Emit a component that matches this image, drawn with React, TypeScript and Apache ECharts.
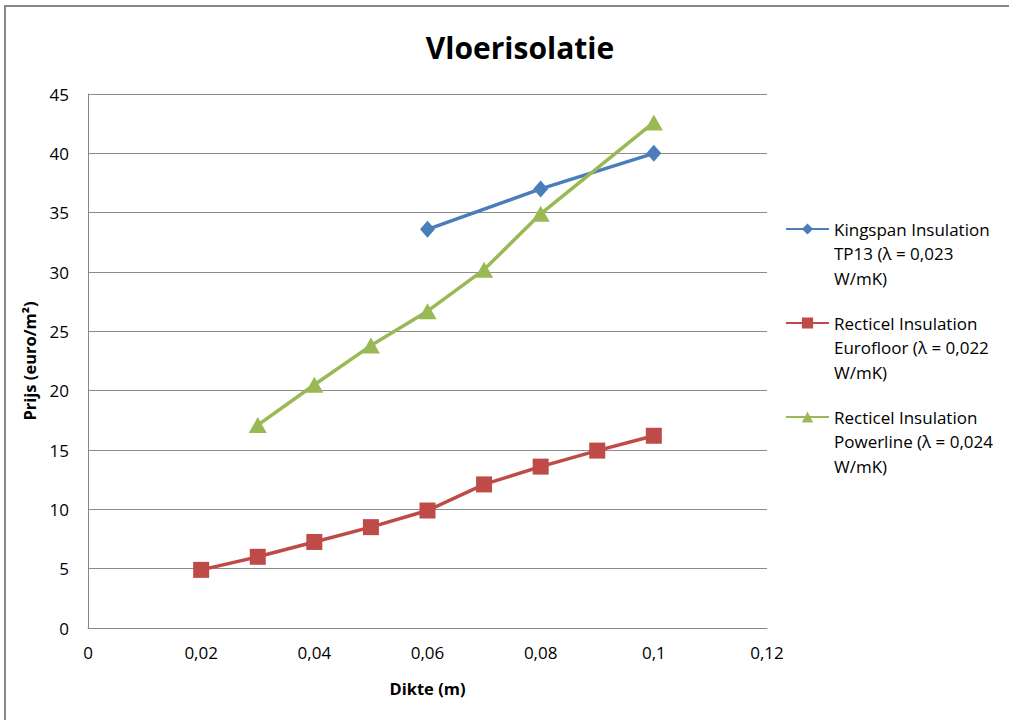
import React, { useEffect, useRef } from "react";
import * as echarts from "echarts";

const xTicks = [0, 0.02, 0.04, 0.06, 0.08, 0.1, 0.12];
const kingspanX = [0.06, 0.08, 0.1];
const kingspanY = [33.6, 37.0, 40.0];
const eurofloorX = [0.02, 0.03, 0.04, 0.05, 0.06, 0.07, 0.08, 0.09, 0.1];
const eurofloorY = [4.9, 6.0, 7.25, 8.5, 9.9, 12.1, 13.6, 14.95, 16.2];
const powerlineX = [0.03, 0.04, 0.05, 0.06, 0.07, 0.08, 0.1];
const powerlineY = [17.1, 20.5, 23.8, 26.7, 30.2, 34.9, 42.6];

const seriesNames = [
  "Kingspan Insulation\nTP13 (λ = 0,023\nW/mK)",
  "Recticel Insulation\nEurofloor (λ = 0,022\nW/mK)",
  "Recticel Insulation\nPowerline (λ = 0,024\nW/mK)",
];
const colors = ["#4a7ebb", "#be4b48", "#98b954"];

const FONT = "Open Sans";
const LH = 24.5;

function zip(xs: number[], ys: number[]) {
  return xs.map((x, i) => [x, ys[i]]);
}

function fmt(v: number) {
  return String(Math.round(v * 1000) / 1000).replace(".", ",");
}

export default function App() {
  const ref = useRef<HTMLDivElement>(null);
  useEffect(() => {
    if (!ref.current) return;
    const chart = echarts.init(ref.current, undefined, { renderer: "svg" });
    const legendCenters = [229, 323, 417];
    const legends = seriesNames.map((n, i) => ({
      data: [n],
      left: 785,
      top: legendCenters[i] - (5 * LH) / 2,
      padding: 0,
      itemWidth: 43,
      itemHeight: 14,
      itemGap: 0,
      selectedMode: false,
      formatter: (name: string) => "\n\n" + name,
      textStyle: {
        fontFamily: FONT,
        fontSize: 17,
        color: "#000",
        lineHeight: LH,
      },
    }));
    chart.setOption({
      animation: false,
      backgroundColor: "#fff",
      title: {
        text: "Vloerisolatie",
        left: 515,
        textAlign: "center",
        top: 27,
        textStyle: { fontFamily: FONT, fontWeight: "bold", fontSize: 30, color: "#000" },
      },
      graphic: [
        {
          type: "rect",
          shape: { x: 5, y: 6, width: 1100, height: 800 },
          style: { fill: "none", stroke: "#868686", lineWidth: 2 },
          silent: true,
        },
      ],
      legend: legends,
      grid: { left: 88, right: 242, top: 94, bottom: 92, containLabel: false },
      xAxis: {
        type: "value",
        min: 0,
        max: 0.12,
        interval: 0.02,
        name: "Dikte (m)",
        nameLocation: "middle",
        nameGap: 52,
        nameTextStyle: { fontFamily: FONT, fontWeight: "bold", fontSize: 16.5, color: "#000" },
        axisLine: { show: true, lineStyle: { color: "#868686", width: 1 } },
        axisTick: { show: false },
        splitLine: { show: false },
        axisLabel: {
          fontFamily: FONT,
          fontSize: 17,
          color: "#000",
          margin: 16,
          formatter: (v: number) => fmt(v),
        },
      },
      yAxis: {
        type: "value",
        min: 0,
        max: 45,
        interval: 5,
        name: "Prijs (euro/m²)",
        nameLocation: "middle",
        nameGap: 50,
        nameTextStyle: { fontFamily: FONT, fontWeight: "bold", fontSize: 16.5, color: "#000" },
        axisLine: { show: true, lineStyle: { color: "#868686", width: 1 } },
        axisTick: { show: false },
        splitLine: { show: true, lineStyle: { color: "#8c8c8c", width: 1 } },
        axisLabel: {
          fontFamily: FONT,
          fontSize: 17,
          color: "#000",
          margin: 19,
          formatter: (v: number) => fmt(v),
        },
      },
      series: [
        {
          name: seriesNames[0],
          type: "line",
          data: zip(kingspanX, kingspanY),
          symbol: "diamond",
          symbolSize: [15, 17],
          lineStyle: { color: colors[0], width: 3.5 },
          itemStyle: { color: colors[0] },
        },
        {
          name: seriesNames[1],
          type: "line",
          data: zip(eurofloorX, eurofloorY),
          symbol: "rect",
          symbolSize: 16,
          lineStyle: { color: colors[1], width: 3.5 },
          itemStyle: { color: colors[1] },
        },
        {
          name: seriesNames[2],
          type: "line",
          data: zip(powerlineX, powerlineY),
          symbol: "triangle",
          symbolSize: [18, 16],
          lineStyle: { color: colors[2], width: 3.5 },
          itemStyle: { color: colors[2] },
        },
      ],
    });
    return () => chart.dispose();
  }, []);
  return (
    <div
      ref={ref}
      style={{ position: "fixed", left: 0, top: 0, width: 1009, height: 720 }}
    />
  );
}
